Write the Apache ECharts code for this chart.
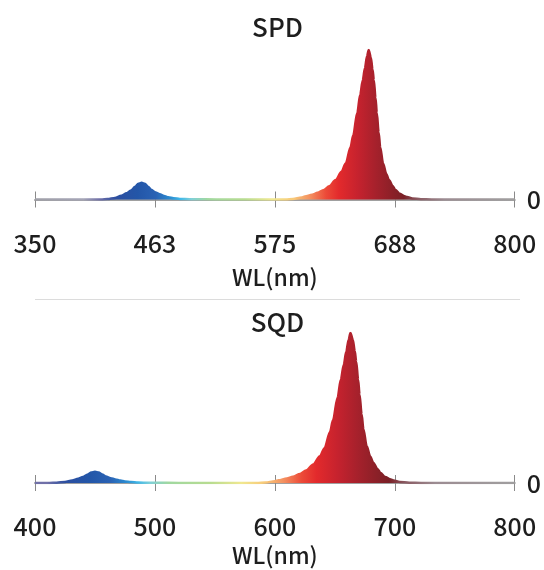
<!DOCTYPE html>
<html>
<head>
<meta charset="utf-8">
<script src="https://cdn.jsdelivr.net/npm/echarts@6/dist/echarts.min.js"></script>
<style>
html,body{margin:0;padding:0;background:#fff;}
#chart{width:544px;height:570px;}
</style>
</head>
<body>
<div id="chart"></div>
<script>
// SPD 数据 (波长 / 相对值)
var spdWl = [350, 400, 412, 418, 425, 431, 436, 440, 444, 447, 450, 453, 456, 459, 463, 467, 471, 475, 480, 486, 495, 510, 530,
  585, 592, 600, 603, 610, 615, 621, 626, 632, 637.5, 641.4, 646, 648.5, 652.3, 655, 657.5, 659.5, 661.5, 663, 665, 666.6, 667.8, 669.4, 670.6, 672.3, 673.8, 676.5, 679.5, 682, 685.5, 688, 692, 696, 699, 704, 712, 722, 800];
var spdVal = [0, 0, 0, 0.003, 0.01, 0.025, 0.042, 0.06, 0.085, 0.105, 0.112, 0.105, 0.085, 0.065, 0.047, 0.035, 0.024, 0.015, 0.008, 0.004, 0.002, 0.001, 0,
  0, 0.003, 0.013, 0.02, 0.032, 0.045, 0.064, 0.088, 0.13, 0.185, 0.24, 0.35, 0.43, 0.58, 0.7, 0.8, 0.88, 0.96, 1.0, 0.95, 0.87, 0.8, 0.68, 0.58, 0.45, 0.35, 0.24, 0.17, 0.13, 0.09, 0.064, 0.038, 0.024, 0.016, 0.007, 0.002, 0, 0];
// SQD 数据
var sqdWl = [400, 412, 418, 425, 431, 436, 440, 444, 447, 450, 453, 456, 459, 463, 467, 471, 475, 480, 486, 495, 510, 530,
  585, 592, 600, 603, 610, 615, 621, 626, 632, 637.5, 641.4, 646, 648.5, 652.3, 655, 657.5, 659.5, 661.5, 663, 665, 666.6, 667.8, 669.4, 670.6, 672.3, 673.8, 676.5, 679.5, 682, 685.5, 688, 692, 696, 699, 704, 712, 722, 800];
var sqdVal = [0, 0, 0.002, 0.007, 0.017, 0.028, 0.04, 0.057, 0.07, 0.075, 0.07, 0.057, 0.044, 0.032, 0.024, 0.016, 0.01, 0.006, 0.003, 0.0015, 0.001, 0,
  0, 0.003, 0.012, 0.018, 0.03, 0.042, 0.06, 0.083, 0.124, 0.178, 0.232, 0.34, 0.42, 0.57, 0.69, 0.79, 0.875, 0.955, 1.0, 0.955, 0.88, 0.81, 0.69, 0.59, 0.46, 0.36, 0.247, 0.176, 0.135, 0.094, 0.067, 0.04, 0.025, 0.017, 0.0075, 0.002, 0, 0];

var titles = ['SPD', 'SQD'];
var axisName = 'WL(nm)';
var spdRange = [350, 800];
var sqdRange = [400, 800];

// 光谱颜色 (波长 -> 颜色)
var specStops = [
  [350, '#a0a0a8'], [395, '#a4a4b6'], [410, '#7070a8'], [425, '#2c4ea0'], [445, '#2356a8'], [462, '#2a62b4'],
  [475, '#2a8ad0'], [485, '#40b8e8'], [495, '#80d0d8'], [510, '#a0d8a0'], [545, '#b8dc90'], [570, '#f0e890'],
  [590, '#f8c878'], [605, '#f49060'], [620, '#ec4a38'], [632, '#e32a2c'], [650, '#c5222e'], [665, '#a8212c'],
  [680, '#8e2028'], [692, '#7a2026'], [705, '#8a5a62'], [730, '#9c8c92'], [800, '#a0a0a0']
];

var X0 = 35, X1 = 520;
var FONT = '"Noto Sans CJK SC", "Noto Sans", sans-serif';
var TXT = '#1e1e1e';
var WEIGHT = 500;

function spectrum(range) {
  var stops = [];
  specStops.forEach(function (s) {
    var off = (s[0] - range[0]) / (range[1] - range[0]);
    if (off >= 0 && off <= 1) stops.push({offset: off, color: s[1]});
  });
  return new echarts.graphic.LinearGradient(X0, 0, X1, 0, stops, true);
}

function pairs(wl, val, shift) {
  return wl.map(function (w, i) { return [w - shift, val[i]]; });
}

var chart = echarts.init(document.getElementById('chart'));

var grids = [
  {left: X0, right: 544 - X1, top: 50, height: 149.5},
  {left: X0, right: 544 - X1, top: 333, height: 150}
];

// x 轴: 主轴(外侧刻度+标签) + 叠加轴(内侧刻度)
function xAxes(gi, span, interval, shift, gap) {
  var base = {
    gridIndex: gi, type: 'value', min: 0, max: span, interval: interval, position: 'bottom',
    splitLine: {show: false}
  };
  var main = Object.assign({}, base, {
    name: axisName, nameLocation: 'middle', nameGap: gap,
    nameTextStyle: {fontSize: 23, color: TXT, fontFamily: FONT, fontWeight: WEIGHT},
    axisLine: {lineStyle: {color: '#a0a0a0', width: 2}},
    axisTick: {length: 8, lineStyle: {color: '#8a8a8a', width: 1}},
    axisLabel: {
      margin: 31, fontSize: 25, color: TXT, fontFamily: FONT, fontWeight: WEIGHT,
      formatter: function (v) { return Math.round(v + shift); }
    }
  });
  var over = Object.assign({}, base, {
    axisLine: {show: false},
    axisTick: {inside: true, length: 8, lineStyle: {color: '#8a8a8a', width: 1}},
    axisLabel: {show: false}
  });
  return [main, over];
}

var xa = xAxes(0, 450, 112.5, 350, 66).concat(xAxes(1, 400, 100, 400, 61));

function yAxis(gi) {
  return {
    gridIndex: gi, type: 'value', position: 'right', min: 0, max: 1, interval: 1,
    axisLine: {show: false}, axisTick: {show: false}, splitLine: {show: false},
    axisLabel: {
      margin: 12, fontSize: 25, color: TXT, fontFamily: FONT, fontWeight: WEIGHT,
      formatter: function (v) { return v === 0 ? '0' : ''; }
    }
  };
}

function series(xi, yi, data, range) {
  var grad = spectrum(range);
  return {
    type: 'line', xAxisIndex: xi, yAxisIndex: yi, data: data,
    showSymbol: false, smooth: 0.3, smoothMonotone: 'x', z: 5,
    lineStyle: {color: grad, width: 2.5},
    areaStyle: {color: grad, opacity: 1}
  };
}

var option = {
  animation: false,
  grid: grids,
  xAxis: xa,
  yAxis: [yAxis(0), yAxis(1)],
  series: [
    series(0, 0, pairs(spdWl, spdVal, spdRange[0]), spdRange),
    series(2, 1, pairs(sqdWl, sqdVal, sqdRange[0]), sqdRange)
  ],
  graphic: [
    {type: 'text', x: (X0 + X1) / 2, y: 27, style: {text: titles[0], fontSize: 26, fontWeight: WEIGHT, fill: TXT, fontFamily: FONT, align: 'center', verticalAlign: 'middle'}},
    {type: 'text', x: (X0 + X1) / 2, y: 322, style: {text: titles[1], fontSize: 26, fontWeight: WEIGHT, fill: TXT, fontFamily: FONT, align: 'center', verticalAlign: 'middle'}},
    {type: 'line', shape: {x1: X0, y1: 299.5, x2: X1, y2: 299.5}, style: {stroke: '#dcdcdc', lineWidth: 1}}
  ]
};

chart.setOption(option);
</script>
</body>
</html>
